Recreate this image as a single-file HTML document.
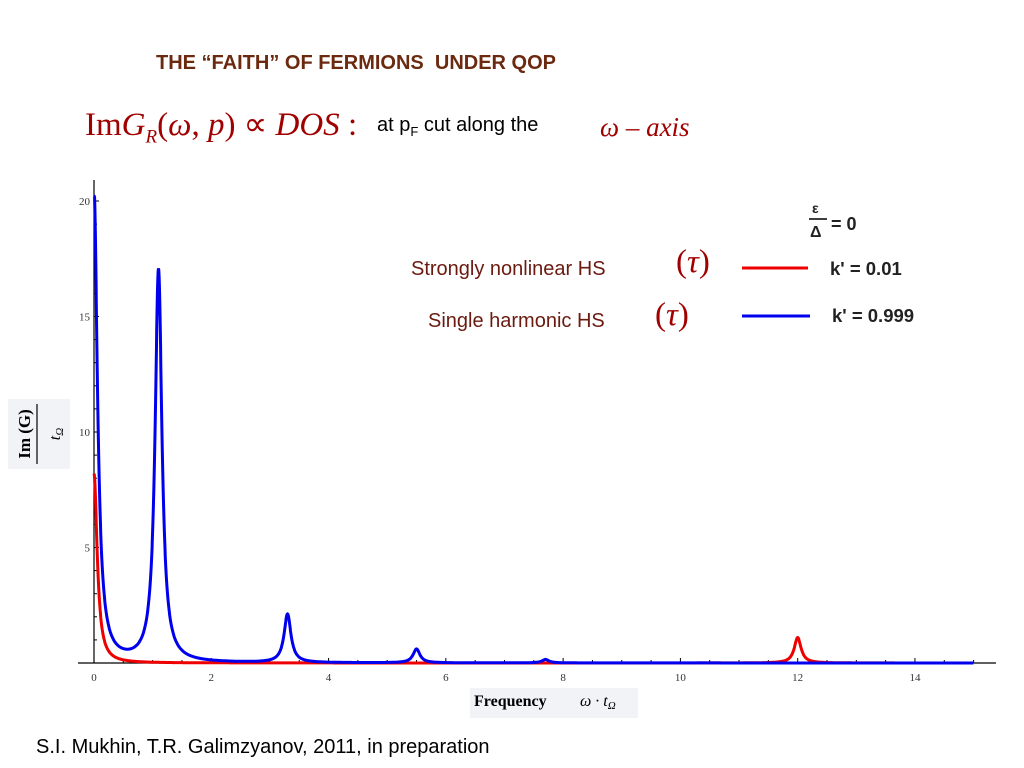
<!DOCTYPE html>
<html><head><meta charset="utf-8"><style>
body{margin:0;width:1024px;height:768px;background:#fff;overflow:hidden;position:relative;font-family:"Liberation Sans",sans-serif}
.abs{position:absolute;white-space:nowrap}
</style></head><body>
<div class="abs" style="left:156px;top:52px;font-size:20px;font-weight:bold;color:#6b2a10">THE “FAITH” OF FERMIONS&nbsp; UNDER QOP</div>
<div class="abs" style="left:85px;top:104px;font-size:33px;font-family:'Liberation Serif',serif;color:#a00000">Im<i>G<sub style="font-size:19px">R</sub></i>(<i>ω</i>, <i>p</i>) ∝ <i>DOS</i> :</div>
<div class="abs" style="left:377px;top:114px;font-size:20px;color:#000">at p<sub style="font-size:13px">F</sub> cut along the</div>
<div class="abs" style="left:600px;top:112px;font-size:27px;font-family:'Liberation Serif',serif;font-style:italic;color:#a00000">ω – axis</div>
<div class="abs" style="left:411px;top:258px;font-size:20px;color:#6b1a10">Strongly nonlinear HS</div>
<div class="abs" style="left:676px;top:244px;font-size:33px;font-family:'Liberation Serif',serif;color:#a00000">(<i>τ</i>)</div>
<div class="abs" style="left:428px;top:310px;font-size:20px;color:#6b1a10">Single harmonic HS</div>
<div class="abs" style="left:655px;top:297px;font-size:33px;font-family:'Liberation Serif',serif;color:#a00000">(<i>τ</i>)</div>
<div class="abs" style="left:36px;top:736px;font-size:20px;color:#000">S.I. Mukhin, T.R. Galimzyanov, 2011, in preparation</div>
<svg id="chart" width="1024" height="768" style="position:absolute;left:0;top:0">
<g id="axes"></g><g id="series"></g>
<g font-family="Liberation Sans, sans-serif" font-weight="bold" fill="#222">
<text x="812" y="213" font-size="14">ε</text><line x1="809" y1="219" x2="827" y2="219" stroke="#222" stroke-width="1.8"/><text x="810" y="237" font-size="16">Δ</text>
<text x="831" y="230" font-size="18">= 0</text>
<line x1="742" y1="268" x2="808" y2="268" stroke="#e00" stroke-width="3"/>
<text x="830" y="275" font-size="18.5">k' = 0.01</text>
<line x1="742" y1="316" x2="810" y2="316" stroke="#00e" stroke-width="3"/>
<text x="832" y="322" font-size="18.5">k' = 0.999</text>
</g>
<g>
<rect x="8" y="399" width="62" height="70" fill="#f2f3f7"/>
<text transform="translate(30,434) rotate(-90)" text-anchor="middle" font-family="Liberation Serif, serif" font-weight="bold" font-size="17">Im (G)</text>
<line x1="37" y1="404" x2="37" y2="464" stroke="#000" stroke-width="1.2"/>
<text transform="translate(60,434) rotate(-90)" text-anchor="middle" font-family="Liberation Serif, serif" font-style="italic" font-size="16">t<tspan font-size="11" dy="3">Ω</tspan></text>
</g>
<g>
<rect x="470" y="688" width="168" height="30" fill="#f2f3f7"/>
<text x="474" y="706" font-family="Liberation Serif, serif" font-weight="bold" font-size="16">Frequency</text>
<text x="580" y="706" font-family="Liberation Serif, serif" font-style="italic" font-size="16">ω · t<tspan font-size="11" dy="3">Ω</tspan></text>
</g>
</svg>
<script>
const xTicks=[0,2,4,6,8,10,12,14];
const yTicks=[5,10,15,20];
const blueCenters=[0,1.1,3.3,5.5,7.7];
const blueHeights=[20.5,17,2.1,0.6,0.15];
const blueWidths=[0.07,0.07,0.07,0.07,0.07];
const redCenters=[0,12];
const redHeights=[8.2,1.1];
const redWidths=[0.065,0.07];
const X0=94,XS=58.64,Y0=663,YS=23.1;
function sx(v){return X0+v*XS}
function sy(v){return Y0-v*YS}
const NS="http://www.w3.org/2000/svg";
function mk(t,a,p){const e=document.createElementNS(NS,t);for(const k in a)e.setAttribute(k,a[k]);p.appendChild(e);return e}
const ax=document.getElementById('axes');
const xl=mk('line',{x1:78,y1:Y0,x2:996,y2:Y0,stroke:'#000','stroke-width':1.2},ax);


const yl=mk('line',{x1:X0,y1:180,x2:X0,y2:Y0,stroke:'#000','stroke-width':1.2},ax);


for(let v=0.5;v<15.2;v+=0.5){const big=Number.isInteger(v/2);mk('line',{x1:sx(v),y1:Y0,x2:sx(v),y2:Y0-(big?5:3),stroke:'#000'},ax)}
for(let v=1;v<=20;v++){mk('line',{x1:X0,y1:sy(v),x2:X0+(v%5?3:5),y2:sy(v),stroke:'#000'},ax)}
xTicks.forEach(v=>{const t=mk('text',{x:sx(v),y:Y0+18,'text-anchor':'middle','font-size':11,'font-family':'Liberation Serif, serif',fill:'#333'},ax);t.textContent=v;

});
yTicks.forEach(v=>{const t=mk('text',{x:X0-4,y:sy(v)+4,'text-anchor':'end','font-size':11,'font-family':'Liberation Serif, serif',fill:'#333'},ax);t.textContent=v;

});
function curve(c,h,w,x){let s=0;for(let i=0;i<c.length;i++){const d=(x-c[i])/w[i];s+=h[i]/(1+d*d)}return s}
function path(c,h,w){let d='';for(let x=0;x<=15;x+=0.005){const v=Math.min(curve(c,h,w,x),20.2);d+=(d?'L':'M')+sx(x).toFixed(1)+','+sy(v).toFixed(1)}return d}
const sg=document.getElementById('series');
const r=mk('path',{d:path(redCenters,redHeights,redWidths),fill:'none',stroke:'#e00','stroke-width':3},sg);


const b=mk('path',{d:path(blueCenters,blueHeights,blueWidths),fill:'none',stroke:'#00e','stroke-width':3},sg);


</script>
</body></html>
